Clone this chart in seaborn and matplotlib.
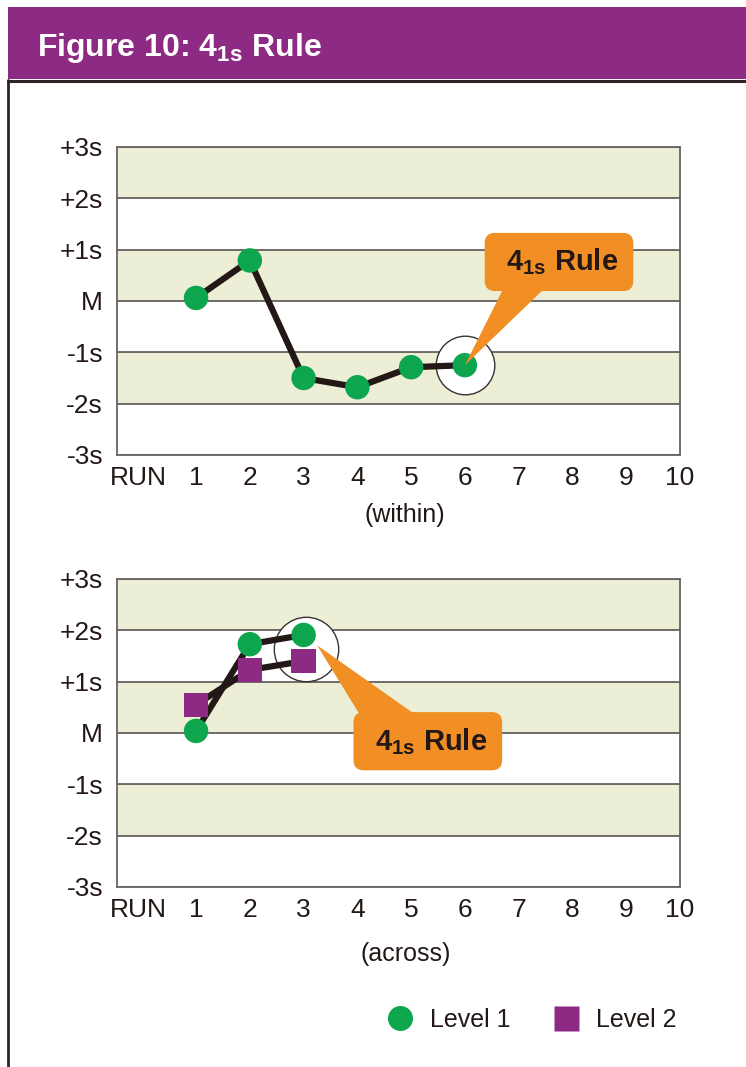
import matplotlib
matplotlib.use("Agg")
import matplotlib.pyplot as plt
from matplotlib.patches import Rectangle
from matplotlib.lines import Line2D
import pandas as pd
import seaborn as sns

# Control-chart levels (in SD units) and their labels
sd_levels = [3, 2, 1, 0, -1, -2, -3]
sd_labels = ["+3s", "+2s", "+1s", "M", "-1s", "-2s", "-3s"]
run_ticks = [-0.08] + list(range(1, 11))
run_labels = ["RUN"] + [str(i) for i in range(1, 11)]

# Within-run example: one control level
within_runs = [1, 2, 3, 4, 5, 6]
within_level1 = [0.06, 0.79, -1.50, -1.68, -1.29, -1.25]

# Across-run example: two control levels
across_runs = [1, 2, 3]
across_level1 = [0.04, 1.73, 1.91]
across_level2 = [0.55, 1.23, 1.40]

# Points flagged by the rule (circled)
within_flag = (6, -1.25)
across_flag = (3.05, 1.64)

PURPLE = "#8C2A84"
ORANGE = "#F18F25"
GREEN = "#0DA64F"
DARK = "#231815"
BAND = "#ECEFD6"
GRID = "#4E4545"

sns.set_theme(style="white")
plt.rcParams["font.family"] = ["Liberation Sans", "DejaVu Sans"]
plt.rcParams["mathtext.fontset"] = "custom"

W, H = 746, 1067
fig = plt.figure(figsize=(W / 100, H / 100), dpi=100)


def fx(px):
    return px / W


def fy(py):
    return 1 - py / H


# Header band and frame
fig.add_artist(Rectangle((fx(8), fy(79)), fx(W - 8), 72 / H,
                         transform=fig.transFigure, fc=PURPLE, ec="none"))
fig.text(fx(37), fy(56), r"Figure 10: 4$_{\mathregular{1s}}$ Rule",
         color="white", fontsize=23, fontweight="bold", va="baseline", ha="left")
fig.add_artist(Line2D([fx(8), 1], [fy(80.5), fy(80.5)], transform=fig.transFigure,
                      color="#2E2222", lw=2.2))
fig.add_artist(Line2D([fx(8), fx(8)], [fy(80), 0], transform=fig.transFigure,
                      color="#2E2222", lw=2))

ax_w = fx(680) - fx(117)
ax_h = 308 / H
ax1 = fig.add_axes([fx(117), fy(455), ax_w, ax_h])
ax2 = fig.add_axes([fx(117), fy(887), ax_w, ax_h])


def style_axes(ax):
    ax.set_xlim(-0.47, 10)
    ax.set_ylim(-3, 3)
    for lo, hi in [(2, 3), (0, 1), (-2, -1)]:
        ax.axhspan(lo, hi, color=BAND, lw=0, zorder=0.2)
    ax.set_axisbelow(True)
    ax.grid(axis="y", color=GRID, lw=1.1)
    ax.grid(axis="x", visible=False)
    ax.set_yticks(sd_levels, sd_labels)
    ax.set_xticks(run_ticks, run_labels)
    ax.tick_params(axis="y", length=0, pad=10, labelsize=19, labelcolor=DARK)
    ax.tick_params(axis="x", length=0, pad=8, labelsize=19, labelcolor=DARK)
    for sp in ax.spines.values():
        sp.set_color("#6A6262")
        sp.set_linewidth(1.3)
        sp.set_visible(True)


style_axes(ax1)
style_axes(ax2)

# --- Within-run chart ---
within_df = pd.DataFrame({"run": within_runs, "value": within_level1})
ax1.scatter([within_flag[0]], [within_flag[1]], s=1780, marker="o",
            facecolor="white", edgecolor="#3A3030", lw=1.0, zorder=2)
sns.lineplot(data=within_df, x="run", y="value", ax=ax1, color=DARK,
             lw=4.5, zorder=3, estimator=None)
sns.scatterplot(data=within_df, x="run", y="value", ax=ax1, color=GREEN,
                s=310, marker="o", edgecolor="none", zorder=4, legend=False)
ax1.set_xlabel("(within)", fontsize=18, color=DARK)
ax1.set_ylabel("")

# --- Across-run chart ---
across_df = pd.DataFrame({
    "run": across_runs * 2,
    "value": across_level1 + across_level2,
    "level": ["Level 1"] * len(across_runs) + ["Level 2"] * len(across_runs),
})
ax2.scatter([across_flag[0]], [across_flag[1]], s=2150, marker="o",
            facecolor="white", edgecolor="#3A3030", lw=1.0, zorder=2)
sns.lineplot(data=across_df, x="run", y="value", units="level", ax=ax2,
             color=DARK, lw=4.5, zorder=3, estimator=None)
sns.scatterplot(data=across_df, x="run", y="value", hue="level", style="level",
                markers={"Level 1": "o", "Level 2": "s"},
                palette={"Level 1": GREEN, "Level 2": PURPLE},
                s=310, edgecolor="none", zorder=4, legend=False, ax=ax2)
ax2.set_xlabel("(across)", fontsize=18, color=DARK)
ax2.set_ylabel("")
ax1.xaxis.set_label_coords(0.512, -0.155)
ax2.xaxis.set_label_coords(0.512, -0.18)

# Rule callouts
callout = r" 4$_{\mathregular{1s}}$ Rule "
box = dict(boxstyle="round,pad=0.47,rounding_size=0.35", fc=ORANGE, ec="none")
ax1.annotate(callout, xy=within_flag, xytext=(7.75, 0.76), textcoords="data",
             ha="center", va="center", fontsize=21, fontweight="bold", color=DARK,
             bbox=box, zorder=6, annotation_clip=False,
             arrowprops=dict(arrowstyle="wedge,tail_width=1.5", fc=ORANGE,
                             ec="none", patchA=None, shrinkA=0, shrinkB=0,
                             relpos=(0.35, 0.5)))
ax2.annotate(callout, xy=(3.25, 1.71), xytext=(5.31, -0.16), textcoords="data",
             ha="center", va="center", fontsize=21, fontweight="bold", color=DARK,
             bbox=box, zorder=6, annotation_clip=False,
             arrowprops=dict(arrowstyle="wedge,tail_width=1.85", fc=ORANGE,
                             ec="none", patchA=None, shrinkA=0, shrinkB=0,
                             relpos=(0.33, 0.5)))

# Legend
handles = [
    Line2D([], [], marker="o", ls="none", ms=18, mfc=GREEN, mec="none"),
    Line2D([], [], marker="s", ls="none", ms=18, mfc=PURPLE, mec="none"),
]
leg = fig.legend(handles, ["Level 1", "Level 2"], loc="center left",
                 bbox_to_anchor=(fx(385), fy(1020)), ncol=2, frameon=False,
                 handlelength=1.2, handletextpad=0.6, columnspacing=1.6,
                 borderpad=0, borderaxespad=0, fontsize=18)
for t in leg.get_texts():
    t.set_color(DARK)

fig.savefig("out.png", dpi=100)
